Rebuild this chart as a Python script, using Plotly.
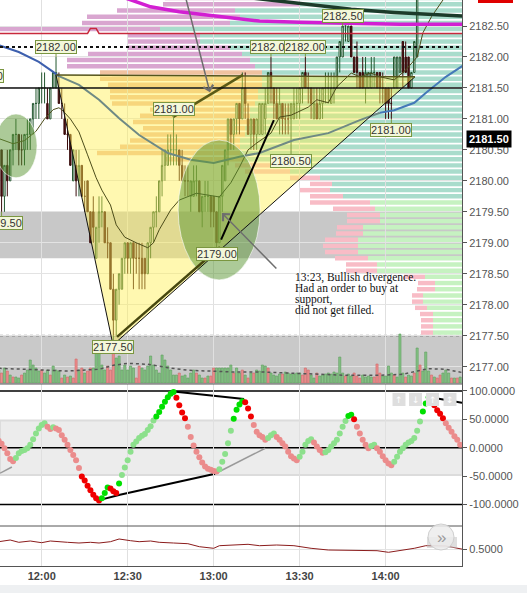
import plotly.graph_objects as go
import pandas as pd

DAY = "2016-09-14"


def at(hm):
    return f"{DAY} {hm}"


# ---------------------------------------------------------------- data
# one-minute bars from 11:40 to 14:26
bar_times = pd.date_range(at("11:40"), periods=167, freq="min")

opens = [
    2181.25, 2181.25, 2181.00, 2180.75, 2180.75, 2180.50,
    2180.50, 2179.75, 2180.25, 2180.00, 2180.50, 2180.75, 2180.75, 2180.50, 2180.50, 2180.75,
    2180.75, 2181.00, 2181.25, 2181.25, 2181.50, 2181.50, 2181.25, 2181.00, 2181.50, 2181.50,
    2181.50, 2181.25, 2181.00, 2180.75, 2180.75, 2180.00, 2180.25, 2180.00, 2180.25, 2179.75,
    2180.00, 2179.50, 2179.50, 2178.75, 2179.25, 2179.50, 2179.50, 2179.00, 2179.00, 2178.25,
    2177.75, 2178.25, 2178.25, 2178.75, 2179.00, 2178.75, 2179.00, 2178.75, 2178.75, 2178.75,
    2178.75, 2178.50, 2179.00, 2179.25, 2179.50, 2179.50, 2180.00, 2180.25, 2180.25, 2180.50,
    2180.50, 2180.50, 2180.50, 2180.25, 2180.00, 2180.00, 2179.75, 2179.75, 2180.00, 2180.00,
    2179.50, 2179.75, 2179.75, 2179.75, 2179.75, 2179.50, 2179.00, 2179.75, 2180.00, 2180.50,
    2181.00, 2180.75, 2181.00, 2181.25, 2181.00, 2181.50, 2181.00, 2180.75, 2181.00, 2180.75,
    2180.75, 2180.75, 2181.00, 2181.25, 2181.75, 2181.50, 2181.25, 2181.00, 2181.25, 2181.00,
    2181.00, 2181.00, 2181.00, 2181.25, 2181.25, 2181.50, 2181.75, 2181.50, 2181.50, 2181.00,
    2181.25, 2181.00, 2181.25, 2181.50, 2181.50, 2181.25, 2181.50, 2181.50, 2182.00, 2182.00,
    2182.50, 2182.25, 2182.50, 2182.00, 2182.00, 2181.75, 2181.75, 2181.50, 2181.50, 2181.50,
    2181.75, 2181.75, 2181.75, 2181.50, 2181.50, 2181.50, 2181.25, 2181.50, 2181.50, 2181.75,
    2182.25, 2182.00, 2182.00, 2181.50, 2181.75, 2182.00, 2183.00, 2183.50, 2183.75, 2184.00,
    2184.00, 2183.75, 2183.75, 2183.50, 2183.75, 2183.50, 2183.50, 2183.25, 2183.50, 2183.25, 2183.25,
]
highs = [
    2181.50, 2181.25, 2181.00, 2181.00, 2180.75, 2180.75,
    2180.50, 2180.25, 2180.50, 2180.50, 2180.75, 2181.00, 2180.75, 2180.75, 2180.75, 2181.00,
    2181.00, 2181.25, 2181.50, 2181.50, 2181.75, 2181.75, 2181.50, 2181.50, 2181.75, 2182.00,
    2181.75, 2181.50, 2181.25, 2181.00, 2180.75, 2180.50, 2180.50, 2180.50, 2180.25, 2180.00,
    2180.00, 2179.50, 2179.75, 2179.25, 2179.75, 2179.75, 2179.50, 2179.25, 2179.00, 2178.50,
    2178.25, 2178.50, 2178.75, 2179.00, 2179.00, 2179.00, 2179.00, 2179.00, 2179.00, 2179.00,
    2178.75, 2179.00, 2179.25, 2179.50, 2179.75, 2180.00, 2180.50, 2180.50, 2180.75, 2180.75,
    2181.00, 2180.75, 2180.50, 2180.50, 2180.25, 2180.25, 2180.00, 2180.25, 2180.25, 2180.00,
    2179.75, 2180.00, 2180.00, 2179.75, 2179.75, 2179.50, 2179.75, 2180.25, 2180.50, 2181.00,
    2181.00, 2181.00, 2181.25, 2181.25, 2181.75, 2181.75, 2181.25, 2181.00, 2181.00, 2181.00,
    2181.25, 2181.25, 2181.50, 2181.75, 2182.00, 2181.50, 2181.50, 2181.50, 2181.25, 2181.25,
    2181.25, 2181.25, 2181.50, 2181.50, 2181.50, 2181.75, 2182.00, 2181.75, 2181.50, 2181.50,
    2181.50, 2181.50, 2181.50, 2181.75, 2181.75, 2181.75, 2181.75, 2182.00, 2182.25, 2182.50,
    2182.50, 2182.50, 2182.50, 2182.00, 2182.25, 2181.75, 2182.00, 2182.00, 2181.75, 2182.00,
    2182.00, 2181.75, 2181.75, 2181.75, 2181.50, 2181.50, 2181.50, 2182.00, 2182.00, 2182.00,
    2182.25, 2182.25, 2182.00, 2181.75, 2182.25, 2183.25, 2183.75, 2184.00, 2184.25, 2184.50,
    2184.25, 2184.00, 2183.75, 2184.00, 2183.75, 2183.75, 2183.50, 2183.75, 2183.50, 2183.50, 2183.50,
]
lows = [
    2181.00, 2180.75, 2180.50, 2180.50, 2180.25, 2180.25,
    2179.50, 2179.50, 2179.75, 2180.00, 2180.25, 2180.50, 2180.25, 2180.25, 2180.25, 2180.50,
    2180.50, 2180.75, 2181.00, 2181.00, 2181.25, 2181.25, 2181.00, 2181.00, 2181.50, 2181.50,
    2181.25, 2181.00, 2180.75, 2180.50, 2180.25, 2180.00, 2179.75, 2179.75, 2179.75, 2179.50,
    2179.50, 2179.00, 2179.00, 2178.75, 2179.00, 2179.25, 2179.00, 2178.75, 2178.25, 2177.50,
    2177.50, 2178.00, 2178.25, 2178.50, 2178.50, 2178.50, 2178.25, 2178.50, 2178.25, 2178.25,
    2178.25, 2178.50, 2178.75, 2179.00, 2179.25, 2179.50, 2179.75, 2180.00, 2180.25, 2180.25,
    2180.25, 2180.25, 2180.00, 2180.00, 2179.75, 2179.75, 2179.50, 2179.75, 2179.75, 2179.50,
    2179.25, 2179.50, 2179.50, 2179.25, 2179.25, 2179.00, 2179.00, 2179.50, 2180.00, 2180.25,
    2180.50, 2180.50, 2180.75, 2180.75, 2181.00, 2181.00, 2180.75, 2180.50, 2180.50, 2180.50,
    2180.75, 2180.75, 2180.75, 2181.25, 2181.25, 2181.00, 2181.00, 2180.75, 2180.75, 2180.75,
    2180.75, 2180.50, 2181.00, 2181.00, 2181.00, 2181.25, 2181.50, 2181.25, 2181.00, 2181.00,
    2181.00, 2181.00, 2181.00, 2181.25, 2181.25, 2181.25, 2181.25, 2181.50, 2181.75, 2182.00,
    2182.25, 2182.25, 2182.00, 2181.75, 2181.50, 2181.50, 2181.50, 2181.25, 2181.50, 2181.50,
    2181.50, 2181.50, 2181.25, 2181.25, 2181.00, 2181.00, 2181.00, 2181.50, 2181.50, 2181.75,
    2181.50, 2181.75, 2181.50, 2181.50, 2181.75, 2182.00, 2183.00, 2183.25, 2183.50, 2183.75,
    2183.50, 2183.50, 2183.25, 2183.50, 2183.25, 2183.25, 2183.00, 2183.25, 2183.00, 2183.00, 2183.00,
]
closes = [
    2181.25, 2181.00, 2180.75, 2180.75, 2180.50, 2180.50,
    2179.75, 2180.25, 2180.00, 2180.50, 2180.75, 2180.75, 2180.50, 2180.50, 2180.75, 2180.75,
    2181.00, 2181.25, 2181.25, 2181.50, 2181.50, 2181.50, 2181.00, 2181.50, 2181.75, 2181.75,
    2181.25, 2181.25, 2180.75, 2180.75, 2180.25, 2180.50, 2180.00, 2180.25, 2179.75, 2179.75,
    2179.50, 2179.00, 2179.25, 2179.25, 2179.50, 2179.50, 2179.00, 2179.00, 2178.25, 2177.75,
    2178.25, 2178.50, 2178.75, 2179.00, 2178.75, 2179.00, 2178.75, 2178.75, 2178.75, 2178.50,
    2178.50, 2179.00, 2179.25, 2179.50, 2179.50, 2180.00, 2180.25, 2180.50, 2180.50, 2180.50,
    2180.50, 2180.50, 2180.25, 2180.00, 2180.00, 2180.00, 2180.00, 2180.00, 2180.00, 2179.50,
    2179.75, 2179.75, 2179.75, 2179.50, 2179.50, 2179.00, 2179.75, 2180.25, 2180.50, 2181.00,
    2180.75, 2181.00, 2181.25, 2181.00, 2181.50, 2181.25, 2180.75, 2181.00, 2180.75, 2181.00,
    2181.25, 2181.25, 2181.25, 2181.75, 2181.50, 2181.25, 2181.00, 2181.25, 2181.00, 2181.00,
    2181.00, 2181.25, 2181.25, 2181.25, 2181.50, 2181.75, 2181.50, 2181.50, 2181.25, 2181.25,
    2181.00, 2181.25, 2181.50, 2181.50, 2181.50, 2181.50, 2181.50, 2182.00, 2182.25, 2182.50,
    2182.50, 2182.50, 2182.00, 2181.75, 2181.75, 2181.50, 2181.50, 2181.75, 2181.75, 2181.75,
    2181.75, 2181.50, 2181.50, 2181.50, 2181.25, 2181.25, 2181.25, 2182.00, 2182.00, 2182.00,
    2181.75, 2181.75, 2181.50, 2181.75, 2182.25, 2183.00, 2183.50, 2183.75, 2184.00, 2184.00,
    2183.75, 2183.75, 2183.50, 2183.75, 2183.50, 2183.50, 2183.25, 2183.50, 2183.25, 2183.25, 2183.25,
]

# traded contracts per bar and whether the bar's volume printed as buying (g) or selling (r)
volume = [
    1200, 900, 1400, 1000, 1100, 1300,
    1000, 1500, 1200, 800, 600, 600, 500, 800, 1000, 1300,
    2300, 1800, 1500, 1200, 1300, 1000, 1300, 800, 1700, 1300,
    1200, 500, 800, 600, 700, 500, 2400, 1300, 1500, 1000,
    1200, 1500, 1500, 3100, 3500, 1800, 1300, 1700, 1300, 3200,
    2500, 2700, 1300, 1800, 1300, 1700, 1500, 500, 1700, 1500,
    1300, 1700, 2700, 1800, 1300, 1000, 2800, 2300, 1700, 1300,
    800, 800, 1000, 700, 800, 500, 1000, 1300, 1000, 800,
    500, 500, 700, 700, 1500, 1500, 1500, 1500, 1500,
    1500, 1800, 1000, 1500, 1000, 1300, 800, 500, 1000, 1000,
    1300, 1200, 1800, 1700, 1500, 1000, 800, 700, 900, 900,
    1100, 1000, 900, 900, 1000, 1000, 800, 1500, 1300, 800,
    500, 1000, 700, 800, 900, 1000, 900, 1100, 1000, 2600,
    1000, 700, 900, 700, 1000, 700, 500, 800, 600, 700,
    600, 600, 1900, 1000, 700, 700, 1700, 1000, 800, 600,
    4900, 1000, 600, 800, 700, 1000, 3500, 1800, 1200, 3100,
    1200, 800, 600, 500, 800, 1000, 1300, 1000, 500, 500,
    500, 600,
]
volume_side = (
    "grrgrg"
    "rgrgrggrgg" "ggggrggrgg" "grgrgrrgrg" "rrgggggrrr" "gggggggrrg"
    "gggggggggg" "ggrgggggrg" "grgrrgggg"
    "ggrggrgrgr" "ggggrggggr" "ggggggrrrg" "grgggggggg" "grggrrrggg"
    "grrrggggrg" "ggrggrgrgg" "grgrrgggrg" "rg"
)
volume_avg_times = ["11:45", "11:57", "12:09", "12:20", "12:25", "12:30", "12:37", "12:44",
                    "12:51", "12:58", "13:07", "13:17", "13:23", "13:35", "13:46", "13:58",
                    "14:06", "14:11", "14:15", "14:21", "14:27"]
volume_avg = [1470, 1370, 1200, 1370, 1770, 1970, 1870, 1530, 1270, 1200, 1100, 1100,
              1030, 870, 770, 770, 870, 1200, 1430, 1370, 1030]

# momentum oscillator, one reading per bar
oscillator = [
    30, 27, 24, 20, 16, 12,
    7, -1, -10, -20, -24, -18, -10, -6, -4, -1,
    5, 15, 25, 34, 40, 43, 37, 33, 36, 34,
    31, 22, 14, 5, -4, -13, -22, -36, -51, -58,
    -67, -75, -83, -89, -93, -89, -80, -70, -72, -77,
    -80, -63, -48, -35, -22, -7, 5, 11, 17, 21,
    24, 31, 38, 48, 55, 63, 72, 81, 89, 95,
    98, 88, 75, 62, 52, 37, 19, 4, -7, -17,
    -26, -33, -37, -39, -41, -42, -38, -25, -11, 8,
    30, 51, 67, 76, 82, 80, 69, 55, 40, 28,
    22, 19, 14, 17, 22, 25, 19, 14, 8, 2,
    -7, -15, -19, -22, -16, -7, 5, 12, 15, 9,
    2, -4, -9, -8, -4, 2, 8, 14, 25, 37,
    47, 56, 58, 50, 37, 25, 14, 5, -1, 3,
    5, -1, -7, -15, -22, -28, -31, -25, -16, -7,
    -1, 5, 9, 12, 17, 30, 46, 64, 78, 89,
    84, 75, 66, 60, 52, 43, 35, 28, 20, 14,
    5,
]

# lower study line
ratio_times = ["11:45", "11:49", "11:52", "11:56", "12:00", "12:03", "12:09", "12:13", "12:17",
               "12:20", "12:24", "12:27", "12:31", "12:34", "12:38", "12:41", "12:46", "12:51",
               "12:55", "12:59", "13:00", "13:02", "13:07", "13:12", "13:16", "13:22", "13:28",
               "13:34", "13:40", "13:45", "13:51", "13:57", "14:01", "14:05", "14:10", "14:14",
               "14:21", "14:27"]
ratio = [0.573, 0.590, 0.567, 0.580, 0.563, 0.580, 0.567, 0.560, 0.567, 0.560, 0.573, 0.600,
         0.583, 0.573, 0.580, 0.567, 0.560, 0.553, 0.523, 0.513, 0.507, 0.533, 0.540, 0.547,
         0.533, 0.540, 0.533, 0.507, 0.490, 0.490, 0.490, 0.483, 0.467, 0.483, 0.507, 0.533,
         0.530, 0.497]

# moving averages and reference lines on the price pane
fast_ma_times = ["11:44", "11:50", "11:54", "11:58", "12:01", "12:04", "12:06", "12:07", "12:10",
                 "12:13", "12:16", "12:19", "12:21", "12:24", "12:26", "12:29", "12:33", "12:37",
                 "12:39", "12:41", "12:45", "12:48", "12:54", "12:59", "13:02", "13:06", "13:09",
                 "13:12", "13:15", "13:20", "13:23", "13:27", "13:33", "13:36", "13:40", "13:43",
                 "13:48", "13:51", "13:55", "13:58", "14:03", "14:07", "14:11", "14:13", "14:16",
                 "14:20", "14:27"]
fast_ma = [2180.70, 2180.60, 2180.65, 2180.80, 2181.00, 2181.15, 2181.18, 2181.15, 2181.00,
           2180.79, 2180.42, 2180.05, 2179.85, 2179.61, 2179.29, 2179.09, 2179.00, 2178.92,
           2179.00, 2179.21, 2179.53, 2179.69, 2179.80, 2179.77, 2179.74, 2179.97, 2180.22,
           2180.50, 2180.61, 2180.77, 2181.03, 2181.06, 2181.19, 2181.31, 2181.26, 2181.52,
           2181.74, 2181.68, 2181.74, 2181.68, 2181.63, 2181.79, 2182.00, 2182.39, 2182.65,
           2182.92, 2183.30]

slow_ma_times = ["11:40", "11:45", "11:52", "11:59", "12:04", "12:06", "12:13", "12:20", "12:27",
                 "12:34", "12:44", "12:52", "13:00", "13:09", "13:16", "13:28", "13:40", "13:51",
                 "13:58", "14:03", "14:10", "14:14", "14:21", "14:27"]
slow_ma = [2182.45, 2182.19, 2182.08, 2181.92, 2181.76, 2181.69, 2181.55, 2181.31, 2181.01,
           2180.74, 2180.45, 2180.34, 2180.29, 2180.39, 2180.45, 2180.66, 2180.77, 2180.98,
           2181.10, 2181.14, 2181.26, 2181.42, 2181.68, 2181.86]

vwap_times = ["12:20", "12:38", "12:48", "13:02", "13:16", "13:30", "14:05", "14:27"]
vwap = [2183.10, 2182.81, 2182.73, 2182.65, 2182.58, 2182.56, 2182.53, 2182.53]

long_ma_times = ["13:10", "13:35", "13:48", "14:03", "14:27"]
long_ma = [2182.97, 2182.84, 2182.77, 2182.72, 2182.66]

ref_times = ["11:40", "12:16", "12:17", "12:19", "12:20", "14:27"]
ref_line = [2182.38, 2182.38, 2182.46, 2182.46, 2182.38, 2182.38]

level_black = 2181.50
level_dotted = 2182.16

# volume profile: row price, selling and buying contracts
profile_price = [2182.95, 2182.85, 2182.75, 2182.65, 2182.55, 2182.45, 2182.35, 2182.25, 2182.15,
                 2182.05, 2181.95, 2181.85, 2181.75, 2181.65, 2181.55, 2181.45, 2181.35, 2181.25,
                 2181.15, 2181.05, 2180.95, 2180.85, 2180.75, 2180.65, 2180.55, 2180.45, 2180.35,
                 2180.25, 2180.15, 2180.05, 2179.95, 2179.85, 2179.75, 2179.65, 2179.55, 2179.45,
                 2179.35, 2179.25, 2179.15, 2179.05, 2178.95, 2178.85, 2178.75, 2178.65, 2178.55,
                 2178.45, 2178.35, 2178.25, 2178.15, 2178.05, 2177.95, 2177.85, 2177.75, 2177.65,
                 2177.55]
profile_sell = [1350, 1370, 1180, 1530, 1480, 1600, 730, 730, 1030, 1540,
                1830, 1880, 1620, 1620, 1540, 1480, 1480, 1430, 1000, 1100,
                1170, 1020, 1050, 1100, 1200, 1430, 800, 450, 450, 300,
                220, 300, 330, 600, 420, 330, 330, 260, 270, 330,
                350, 330, 330, 310, 310, 210, 170, 180, 110, 110,
                120, 130, 120, 120, 120]
profile_buy = [1620, 1620, 2270, 2220, 2320, 3020, 2620, 2620, 2320, 2200,
               2120, 2070, 2000, 2000, 2000, 2040, 2040, 2070, 2120, 2120,
               2120, 2170, 2170, 2220, 2220, 2220, 2170, 1820, 1720, 1420,
               1300, 1320, 1190, 920, 870, 820, 820, 990, 990, 1040,
               1040, 1040, 940, 850, 850, 370, 270, 270, 390, 390,
               350, 290, 290, 290, 290]

# swing points that carry a price tag: (bar time, which extreme)
tagged_swings = [("11:46", "low"), ("12:05", "high"), ("12:25", "low"), ("12:46", "high"),
                 ("13:01", "low"), ("13:20", "high"), ("13:32", "high"), ("13:27", "low"),
                 ("13:45", "high"), ("14:02", "low")]

note_lines = ["13:23, Bullish divergence.", "Had an order to buy at", "support,",
              "did not get filled."]

assert len(opens) == len(highs) == len(lows) == len(closes) == len(volume) == 167
assert len(volume_side) == 167 and len(oscillator) == 167
assert len(profile_price) == len(profile_sell) == len(profile_buy)

# ---------------------------------------------------------------- layout geometry
W, H = 527, 593
PLOT_W, PLOT_H = 462, 566
FONT = "Liberation Sans"


def py(pix):
    """page pixel row -> paper y"""
    return (PLOT_H - pix) / PLOT_H


def px(pix):
    return pix / PLOT_W


MAIN_DOM = [py(384), 1.0]
OSC_DOM = [py(526), py(384)]
LOW_DOM = [0.0, py(526)]
VOL_DOM = [py(383), py(333)]
PRICE_RANGE = [2176.72, 2182.92]
PROFILE_FULL = 4620
X_RANGE = [at("11:45:27"), at("14:26:39")]

fig = go.Figure()

# volume profile, drawn first so the price pane sits on top of it
buy_colors = ["#a9dccc" if p >= 2179.7 else "#c6f2c1" for p in profile_price]
sell_colors = ["#d9a6d0" if p >= 2181.8 else "#f0c2a0" if p >= 2180.3 else "#f8bcc6"
               for p in profile_price]
fig.add_trace(go.Bar(orientation="h", y=profile_price, x=profile_buy, width=0.072,
                     marker=dict(color=buy_colors, line=dict(width=0)),
                     xaxis="x", yaxis="y", hoverinfo="skip", showlegend=False))
fig.add_trace(go.Bar(orientation="h", y=profile_price, x=profile_sell, base=profile_buy,
                     width=0.072, marker=dict(color=sell_colors, line=dict(width=0)),
                     xaxis="x", yaxis="y", hoverinfo="skip", showlegend=False))

# price pane
fig.add_trace(go.Candlestick(
    x=bar_times, open=opens, high=highs, low=lows, close=closes,
    increasing=dict(line=dict(color="#23572f", width=1), fillcolor="#ffffff"),
    decreasing=dict(line=dict(color="#3a0c0c", width=1), fillcolor="#4b1010"),
    whiskerwidth=0, xaxis="x2", yaxis="y", showlegend=False, hoverinfo="skip"))

# shaded triangle pattern
tri_t = [at("12:05"), at("12:24:53"), at("14:10:14"), at("12:05")]
tri_p = [2181.71, 2177.35, 2181.68, 2181.71]
fig.add_trace(go.Scatter(x=tri_t, y=tri_p, mode="lines", fill="toself",
                         fillcolor="rgba(255,240,80,0.45)", line=dict(width=0),
                         xaxis="x2", yaxis="y", hoverinfo="skip", showlegend=False))

fig.add_trace(go.Scatter(x=[at(t) for t in fast_ma_times], y=fast_ma, mode="lines",
                         line=dict(color="#4d4d1a", width=1), xaxis="x2", yaxis="y",
                         hoverinfo="skip", showlegend=False))
for lo, hi, col in [(0, 6, "#3d5fae"), (5, 19, "#6f8a84"), (18, 24, "#4479b8")]:
    fig.add_trace(go.Scatter(x=[at(t) for t in slow_ma_times[lo:hi]], y=slow_ma[lo:hi],
                             mode="lines", line=dict(color=col, width=2),
                             xaxis="x2", yaxis="y", hoverinfo="skip", showlegend=False))
fig.add_trace(go.Scatter(x=[at(t) for t in vwap_times], y=vwap, mode="lines",
                         line=dict(color="#d21fd2", width=3.5), xaxis="x2", yaxis="y",
                         hoverinfo="skip", showlegend=False))
fig.add_trace(go.Scatter(x=[at(t) for t in long_ma_times], y=long_ma, mode="lines",
                         line=dict(color="#1c3b2a", width=3.5), xaxis="x2", yaxis="y",
                         hoverinfo="skip", showlegend=False))
fig.add_trace(go.Scatter(x=[at(t) for t in ref_times], y=ref_line, mode="lines",
                         line=dict(color="#c8283c", width=1.5), xaxis="x2", yaxis="y",
                         hoverinfo="skip", showlegend=False))

# volume histogram
vol_fill = ["#84c284" if s == "g" else "#ec8c8c" for s in volume_side]
vol_edge = ["#5e9e5e" if s == "g" else "#cf6a6a" for s in volume_side]
fig.add_trace(go.Bar(x=bar_times, y=volume, width=45000,
                     marker=dict(color=vol_fill, line=dict(color=vol_edge, width=0.6)),
                     xaxis="x2", yaxis="y4", hoverinfo="skip", showlegend=False))
fig.add_trace(go.Scatter(x=[at(t) for t in volume_avg_times], y=volume_avg, mode="lines",
                         line=dict(color="#555555", width=1.5, dash="dot"),
                         xaxis="x2", yaxis="y4", hoverinfo="skip", showlegend=False))

# oscillator dots: green while rising, red while falling, vivid beyond +/-50
osc_colors = []
rising = False
for i, v in enumerate(oscillator):
    if i > 0 and v != oscillator[i - 1]:
        rising = v > oscillator[i - 1]
    strong = abs(v) >= 50
    if rising:
        osc_colors.append("#00e000" if strong else "#8ce08c")
    else:
        osc_colors.append("#f00000" if strong else "#eb8c8c")
fig.add_trace(go.Scatter(x=bar_times, y=oscillator, mode="markers",
                         marker=dict(size=6, color=osc_colors, line=dict(width=0)),
                         xaxis="x2", yaxis="y2", hoverinfo="skip", showlegend=False))

# lower study
fig.add_trace(go.Scatter(x=[at(t) for t in ratio_times], y=ratio, mode="lines",
                         line=dict(color="#8b1c1c", width=1), xaxis="x2", yaxis="y3",
                         hoverinfo="skip", showlegend=False))

# ---------------------------------------------------------------- shapes
shapes = []


def seg(x0, y0, x1, y1, color, width, yref="y", dash="solid", layer="above"):
    shapes.append(dict(type="line", xref="x2", yref=yref, x0=at(x0), y0=y0, x1=at(x1), y1=y1,
                       line=dict(color=color, width=width, dash=dash), layer=layer))


def hband(y0, y1, yref, fill, line=None, layer="below"):
    shapes.append(dict(type="rect", xref="x2 domain", yref=yref, x0=0, x1=1, y0=y0, y1=y1,
                       fillcolor=fill, line=line or dict(width=0), layer=layer))


def hline(y, yref, color, width, dash="solid", layer="below"):
    shapes.append(dict(type="line", xref="x2 domain", yref=yref, x0=0, x1=1, y0=y, y1=y,
                       line=dict(color=color, width=width, dash=dash), layer=layer))


# price pane bands
hband(2178.75, 2179.50, "y", "rgba(110,110,110,0.38)")
hband(PRICE_RANGE[0], 2177.50, "y", "#c9c9c9")
hline(2177.50, "y", "#9a9a9a", 2, dash="dot")

# ellipses
shapes.append(dict(type="circle", xref="x2", yref="y", x0=at("11:43:42"), x1=at("11:58:22"),
                   y0=2180.05, y1=2181.08, fillcolor="rgba(90,150,50,0.5)",
                   line=dict(color="rgba(255,255,255,0.6)", width=1), layer="above"))
shapes.append(dict(type="circle", xref="x2", yref="y", x0=at("12:47:36"), x1=at("13:16:12"),
                   y0=2178.40, y1=2180.66, fillcolor="rgba(90,150,50,0.5)",
                   line=dict(color="rgba(255,255,255,0.6)", width=1), layer="above"))

# triangle edges and trend lines
seg("12:05", 2181.71, "12:24:53", 2177.35, "#111111", 1)
seg("12:24:53", 2177.35, "14:10:14", 2181.68, "#111111", 1)
seg("12:05", 2181.71, "14:10:14", 2181.68, "#55551c", 1.5)
seg("12:45:48", 2181.03, "13:10:12", 2181.71, "#5b5b16", 2.5)
seg("12:26:18", 2177.48, "13:02:12", 2178.93, "#47470f", 2.5)
seg("13:02:36", 2179.05, "13:21:00", 2180.98, "#000000", 2)

# horizontal price levels
hline(level_black, "y", "#111111", 1.5, layer="above")
hline(level_dotted, "y", "#111111", 2, dash="dot", layer="above")

# oscillator furniture
hband(-48, 48, "y2", "#ececec", line=dict(color="#dcdcdc", width=2))
for lv in (100, 0, -100):
    hline(lv, "y2", "#000000", 1.5)
seg("12:46", 99, "13:10:36", 86, "#000000", 2, yref="y2", layer="below")
seg("12:20:24", -92, "12:27:18", -83, "#000000", 2, yref="y2", layer="below")
seg("12:27:18", -83, "13:00:30", -46, "#000000", 2, yref="y2", layer="below")
seg("13:00:30", -46, "13:18:00", -1, "#9a9a9a", 1.5, yref="y2", layer="below")
seg("11:45:30", -45, "11:49:36", -34, "#9a9a9a", 1.5, yref="y2", layer="below")
seg("14:15:30", 89, "14:26:40", 79, "#000000", 2, yref="y2", layer="below")

# pane separators
for yy in (py(384), py(526)):
    shapes.append(dict(type="line", xref="paper", yref="paper", x0=0, x1=1, y0=yy, y1=yy,
                       line=dict(color="#555555", width=1), layer="above"))

# oscillator toolbar buttons
for cx in (399, 415.5, 432.5, 450):
    shapes.append(dict(type="rect", xref="paper", yref="paper", x0=px(cx - 6.5),
                       x1=px(cx + 6.5), y0=py(406), y1=py(393), fillcolor="#dedede",
                       line=dict(width=0), layer="above"))

# chrome: clipped price flag, scroll button, bottom toolbar
shapes.append(dict(type="rect", xref="paper", yref="paper", x0=px(478), x1=px(513),
                   y0=py(3), y1=1.0, fillcolor="#e00000", line=dict(width=0)))
shapes.append(dict(type="rect", xref="paper", yref="paper", x0=px(427), x1=px(457),
                   y0=py(548), y1=py(537), fillcolor="rgba(190,190,190,0.5)",
                   line=dict(width=0), layer="above"))
shapes.append(dict(type="circle", xref="paper", yref="paper", x0=px(428), x1=px(454),
                   y0=py(550), y1=py(524), fillcolor="rgba(236,236,236,0.85)",
                   line=dict(color="#cfcfcf", width=1), layer="above"))
shapes.append(dict(type="rect", xref="paper", yref="paper", x0=0, x1=W / PLOT_W,
                   y0=py(593), y1=py(585), fillcolor="#eef0f2", line=dict(width=0)))

# ---------------------------------------------------------------- annotations
ann = []
for hm, kind in tagged_swings:
    i = list(bar_times).index(pd.Timestamp(at(hm)))
    val = highs[i] if kind == "high" else lows[i]
    ann.append(dict(x=bar_times[i], y=val, xref="x2", yref="y", text=f"{val:.2f}",
                    showarrow=True, arrowhead=0, arrowwidth=1, arrowcolor="#7a9640",
                    ax=0, ay=-10 if kind == "high" else 11,
                    bgcolor="#f3f7da", bordercolor="#7a9640", borderwidth=1, borderpad=0,
                    font=dict(family=FONT, size=11, color="#333333")))
# earlier swing high whose tag is cut by the left edge
ann.append(dict(x=px(-17), y=py(76), xref="paper", yref="paper", text=f"{highs[0]:.2f}",
                showarrow=False, xanchor="center", yanchor="middle", bgcolor="#f3f7da",
                bordercolor="#7a9640", borderwidth=1, borderpad=0,
                font=dict(family=FONT, size=11, color="#333333")))

# drawn arrows
for (tx, ty), (hx, hy) in [(("12:50:00", 2183.0), ("12:58:42", 2181.43)),
                           (("13:22:24", 2178.56), ("13:02:54", 2179.48))]:
    ann.append(dict(x=at(hx), y=hy, ax=at(tx), ay=ty, xref="x2", yref="y", axref="x2",
                    ayref="y", text="", showarrow=True, arrowhead=4, arrowsize=1.3,
                    arrowwidth=1.5, arrowcolor="#6e6e6e"))

# trade note
for k, line in enumerate(note_lines):
    ann.append(dict(x=px(293), y=py(277 + 11 * k), xref="paper", yref="paper", text=line,
                    showarrow=False, xanchor="left", yanchor="middle",
                    font=dict(family="Liberation Serif", size=11.5, color="#111111")))

# last price flag
ann.append(dict(x=px(466), y=py(139), xref="paper", yref="paper", text="<b>2181.50</b>",
                showarrow=False, xanchor="left", yanchor="middle", bgcolor="#000000",
                borderpad=2, font=dict(family=FONT, size=11, color="#ffffff")))

# glyphs on the oscillator toolbar buttons
for cx, glyph in [(399, "↑"), (415.5, "↓"), (432.5, "↑"), (450, "↕")]:
    ann.append(dict(x=px(cx), y=py(399.5), xref="paper", yref="paper", text=glyph,
                    showarrow=False, xanchor="center", yanchor="middle",
                    font=dict(family="DejaVu Sans", size=9, color="#ffffff")))
ann.append(dict(x=px(441), y=py(537), xref="paper", yref="paper", text="»",
                showarrow=False, xanchor="center", yanchor="middle",
                font=dict(family=FONT, size=17, color="#9a9a9a")))

# ---------------------------------------------------------------- axes
tick_font = dict(family=FONT, size=11, color="#555555")
x_ticks = [at(t) for t in ("12:00", "12:30", "13:00", "13:30", "14:00")]
fig.update_layout(
    width=W, height=H,
    margin=dict(l=0, r=W - PLOT_W, t=0, b=H - PLOT_H),
    paper_bgcolor="#ffffff", plot_bgcolor="rgba(0,0,0,0)",
    barmode="overlay", showlegend=False, hovermode=False,
    xaxis=dict(domain=[0, 1], anchor="y", range=[PROFILE_FULL, 0], visible=False,
               fixedrange=True),
    xaxis2=dict(domain=[0, 1], anchor="y3", type="date", range=X_RANGE,
                tickvals=x_ticks, ticktext=["12:00", "12:30", "13:00", "13:30", "14:00"],
                showgrid=True, gridcolor="#e0e0e0", gridwidth=1, zeroline=False,
                showline=True, linecolor="#555555", linewidth=1, ticks="",
                tickfont=dict(family=FONT, size=11, color="#444444", weight="bold"),
                rangeslider=dict(visible=False), fixedrange=True),
    yaxis=dict(domain=MAIN_DOM, anchor="x2", side="right", range=PRICE_RANGE,
               tickvals=[2177.0 + 0.5 * k for k in range(12)], tickformat=".2f",
               showgrid=True, gridcolor="#e3e3e3", zeroline=False, showline=True,
               linecolor="#555555", ticks="outside", ticklen=4, tickcolor="#555555",
               tickfont=tick_font, fixedrange=True),
    yaxis2=dict(domain=OSC_DOM, anchor="x2", side="right", range=[-138.1, 112.3],
                tickvals=[100, 50, 0, -50, -100],
                ticktext=["100.0000", "50.0000", "0.0000", "-50.0000", "-100.0000"],
                showgrid=False, zeroline=False, showline=True, linecolor="#555555",
                ticks="outside", ticklen=4, tickcolor="#555555", tickfont=tick_font,
                fixedrange=True),
    yaxis3=dict(domain=LOW_DOM, anchor="x2", side="right", range=[0.33, 0.73],
                tickvals=[0.5], ticktext=["0.5000"], showgrid=True, gridcolor="#e3e3e3",
                zeroline=False, showline=True, linecolor="#555555", ticks="outside",
                ticklen=4, tickcolor="#555555", tickfont=tick_font, fixedrange=True),
    yaxis4=dict(domain=VOL_DOM, anchor="x2", range=[0, 5000], visible=False,
                fixedrange=True),
    shapes=shapes,
    annotations=ann,
)

fig.write_html("out.html", config={"displayModeBar": False, "staticPlot": True})
